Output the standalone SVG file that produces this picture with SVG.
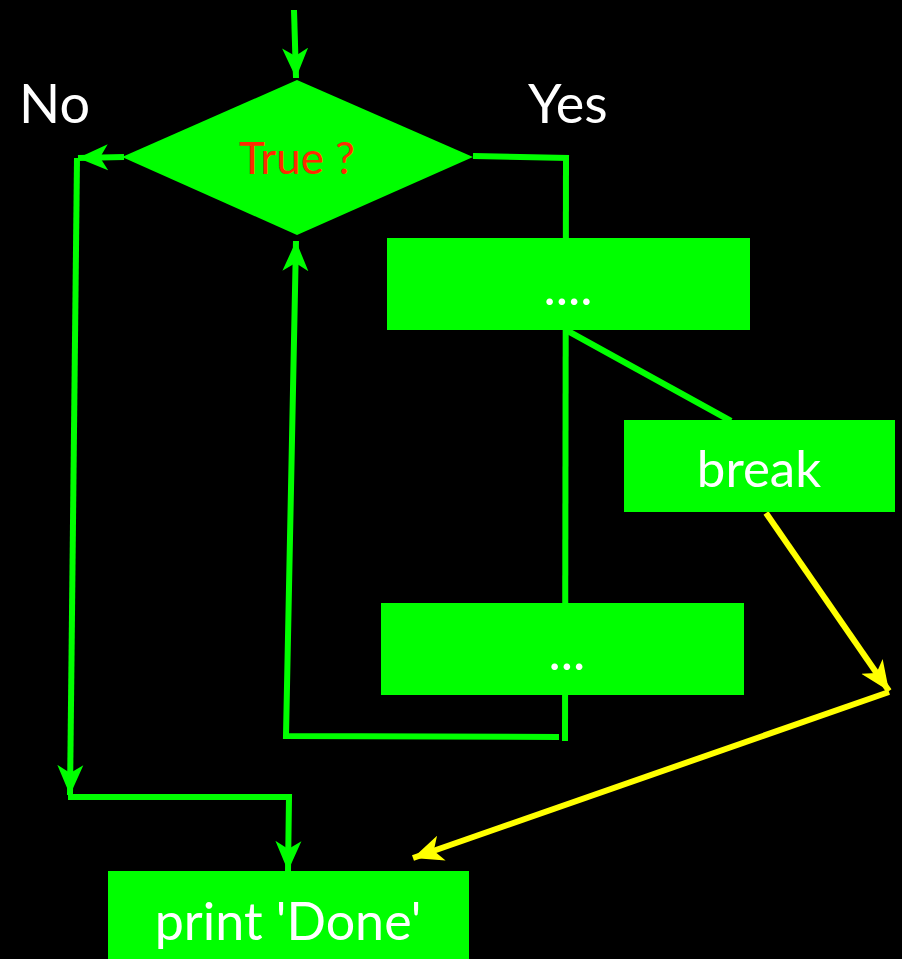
<svg xmlns="http://www.w3.org/2000/svg" width="902" height="959" viewBox="0 0 902 959">
<style>
.box{fill:#00ff00}
.g{stroke:#00ff00;stroke-width:6;fill:none}
.y{stroke:#ffff00;stroke-width:6;fill:none}
.lbl{font-family:Lato,"Open Sans",sans-serif;fill:#ffffff}
</style>
<defs>
<marker id="ag" markerUnits="userSpaceOnUse" markerWidth="32" markerHeight="32" viewBox="0 0 32 32" refX="30" refY="16" orient="auto">
<path d="M0,3 L30,16 L0,29 L8,16 Z" fill="#00ff00"/>
</marker>
<marker id="ay" markerUnits="userSpaceOnUse" markerWidth="32" markerHeight="32" viewBox="0 0 32 32" refX="30" refY="16" orient="auto">
<path d="M0,3 L30,16 L0,29 L8,16 Z" fill="#ffff00"/>
</marker>
</defs>
<rect width="902" height="959" fill="#000"/>
<g id="connectors">
<path class="g" d="M294,10 L296,78" marker-end="url(#ag)"/>
<path class="g" d="M124,157 L78,158" marker-end="url(#ag)"/>
<path class="g" d="M77,158 L70,795" marker-end="url(#ag)"/>
<path class="g" d="M68,797 L289,797 L288,871" marker-end="url(#ag)"/>
<path class="g" d="M473,156 L569,158"/>
<path class="g" d="M566,158 L565,741"/>
<path class="g" d="M559,737 L286,736 L296,241" marker-end="url(#ag)"/>
<path class="g" d="M566,330 L731,421"/>
<path class="y" d="M766,513 L889,691" marker-end="url(#ay)"/>
<path class="y" d="M889,692 L413,858" marker-end="url(#ay)"/>
</g>
<g id="decision">
<polygon class="box" points="297,80 473,157 297,235 122,157"/>
<text x="297" y="174" text-anchor="middle" font-family="Lato,'Open Sans',sans-serif" font-size="44" fill="#ff2a00">True ?</text>
</g>
<g id="step1">
<rect class="box" x="387" y="238" width="363" height="92"/>
<text class="lbl" x="568" y="305" text-anchor="middle" font-size="52">....</text>
</g>
<g id="break">
<rect class="box" x="624" y="420" width="271" height="92"/>
<text class="lbl" x="759" y="487" text-anchor="middle" font-size="51">break</text>
</g>
<g id="step2">
<rect class="box" x="381" y="603" width="363" height="92"/>
<text class="lbl" x="567" y="670" text-anchor="middle" font-size="52">...</text>
</g>
<g id="done">
<rect class="box" x="108" y="871" width="361" height="88"/>
<text class="lbl" x="288" y="940" text-anchor="middle" font-size="52">print 'Done'</text>
</g>
<g id="labels">
<text class="lbl" x="19" y="123" font-size="54">No</text>
<text class="lbl" x="528" y="123" font-size="54">Yes</text>
</g>
</svg>
